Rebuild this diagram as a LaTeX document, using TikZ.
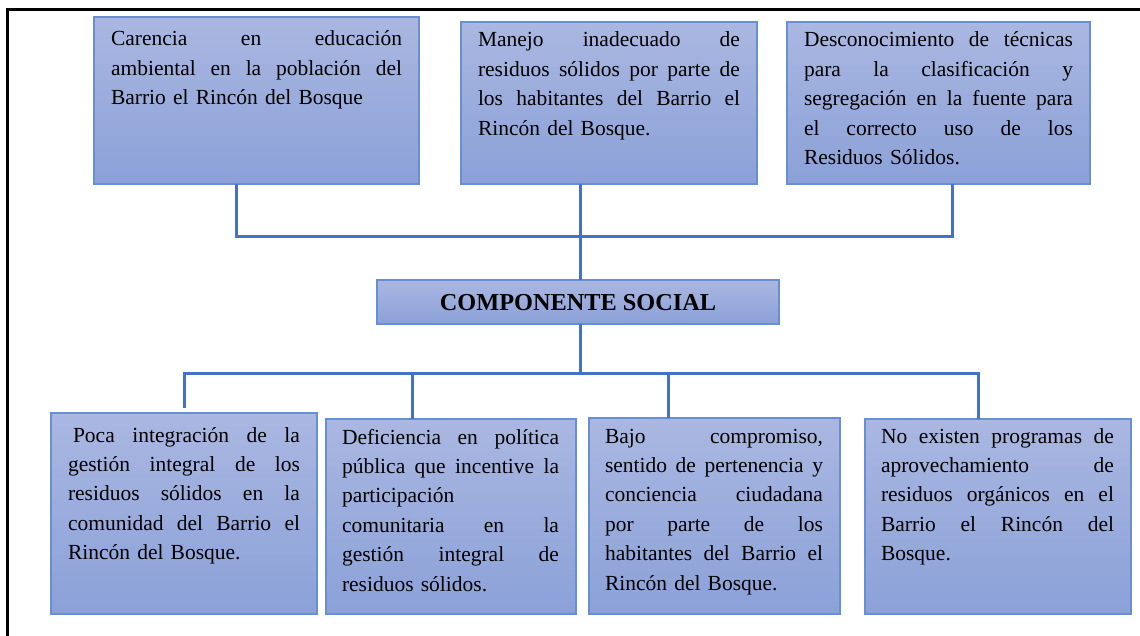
\documentclass[tikz,border=0pt]{standalone}
\usepackage{fontspec}
\setmainfont{Liberation Serif}
\definecolor{connblue}{RGB}{68,114,196}
\definecolor{boxtop}{RGB}{170,183,225}
\definecolor{boxbot}{RGB}{139,161,216}
\definecolor{boxline}{RGB}{104,142,212}
\def\tw{100pt}
\newcommand{\J}[1]{\noindent\hbox to \tw{#1}}
\tikzset{
  box/.style={draw=boxline, line width=1.5pt, top color=boxtop, bottom color=boxbot,
    anchor=north west, inner sep=0pt, outer sep=0pt},
  txt/.style={anchor=base west, inner sep=0pt, outer sep=0pt, text width=#1, align=left,
    font=\fontsize{21.5}{29.4}\selectfont, text=black, execute at begin node={\def\tw{#1pt}}},
  conn/.style={draw=connblue, line width=3pt},
  frame/.style={draw=black, line width=3pt}
}
\begin{document}
\begin{tikzpicture}[x=1pt,y=-1pt]
\useasboundingbox (0,0) rectangle (1140,636);
\fill[white] (0,0) rectangle (1140,636);
\draw[frame] (1142,10) -- (7,10) -- (7,640);

% top boxes
\node[box, minimum width=325, minimum height=167] (t1) at (94,17) {};
\node[box, minimum width=296, minimum height=162] (t2) at (461,22) {};
\node[box, minimum width=303, minimum height=162] (t3) at (787,22) {};
% centre box
\node[box, minimum width=402, minimum height=44] (cs) at (377,280) {};
% bottom boxes
\node[box, minimum width=266, minimum height=201] (b1) at (51,413) {};
\node[box, minimum width=250, minimum height=195] (b2) at (326,419) {};
\node[box, minimum width=251, minimum height=196] (b3) at (589,418) {};
\node[box, minimum width=266, minimum height=195] (b4) at (865,419) {};

% texts
\node[txt=291] (t1t) at (111,46) {\J{Carencia \hfill en \hfill educación}\\\J{ambiental \hfill en \hfill la \hfill población \hfill del}\\Barrio el Rincón del Bosque};
\node[txt=262] (t2t) at (478,47) {\J{Manejo \hfill inadecuado \hfill de}\\\J{residuos \hfill sólidos \hfill por \hfill parte \hfill de}\\\J{los \hfill habitantes \hfill del \hfill Barrio \hfill el}\\Rincón del Bosque.};
\node[txt=269] (t3t) at (804,47) {\J{Desconocimiento \hfill de \hfill técnicas}\\\J{para \hfill la \hfill clasificación \hfill y}\\\J{segregación \hfill en \hfill la \hfill fuente \hfill para}\\\J{el \hfill correcto \hfill uso \hfill de \hfill los}\\Residuos Sólidos.};
\node[font=\fontsize{24.3}{28}\selectfont\bfseries, inner sep=0pt] (cst) at ([yshift=-1]cs.center) {COMPONENTE SOCIAL};
\node[txt=232] (b1t) at (68,442) {\J{\hspace*{5pt}Poca \hfill integración \hfill de \hfill la}\\\J{gestión \hfill integral \hfill de \hfill los}\\\J{residuos \hfill sólidos \hfill en \hfill la}\\\J{comunidad \hfill del \hfill Barrio \hfill el}\\Rincón del Bosque.};
\node[txt=217] (b2t) at (342,444) {\J{Deficiencia \hfill en \hfill política}\\\J{pública \hfill que \hfill incentive \hfill la}\\participación\\\J{comunitaria \hfill en \hfill la}\\\J{gestión \hfill integral \hfill de}\\residuos sólidos.};
\node[txt=218] (b3t) at (605,443) {\J{Bajo \hfill compromiso,}\\\J{sentido \hfill de \hfill pertenencia \hfill y}\\\J{conciencia \hfill ciudadana}\\\J{por \hfill parte \hfill de \hfill los}\\\J{habitantes \hfill del \hfill Barrio \hfill el}\\Rincón del Bosque.};
\node[txt=233] (b4t) at (881,443) {\J{No \hfill existen \hfill programas \hfill de}\\\J{aprovechamiento \hfill de}\\\J{residuos \hfill orgánicos \hfill en \hfill el}\\\J{Barrio \hfill el \hfill Rincón \hfill del}\\Bosque.};

% connector junctions
\coordinate (tb1) at (236,237);
\coordinate (hub) at (580,237);
\coordinate (tb3) at (952,237);
\coordinate (hub2) at (580,373);
\coordinate (bb1) at (184,373);
\coordinate (e1) at (184,408);
\coordinate (bb2) at (412,373);
\coordinate (bb3) at (668,373);
\coordinate (bb4) at (978,373);

\draw[conn] (t1.south -| tb1) -- (tb1) -- (tb3) -- (t3.south -| tb3);
\draw[conn] (t2.south -| hub) -- (cs.north -| hub);
\draw[conn] (cs.south -| hub2) -- (hub2);
\draw[conn] (e1) -- (bb1) -- (bb4) -- (b4.north -| bb4);
\draw[conn] (bb2) -- (b2.north -| bb2);
\draw[conn] (bb3) -- (b3.north -| bb3);
\end{tikzpicture}
\end{document}
